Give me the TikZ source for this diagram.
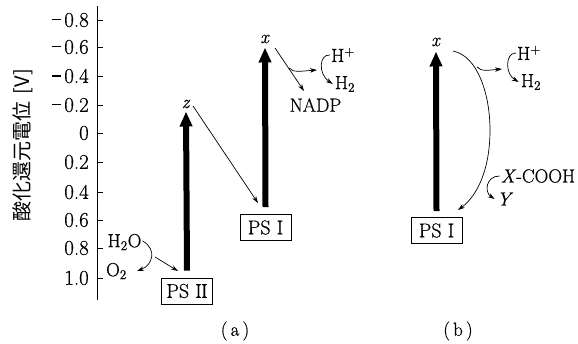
\documentclass[tikz,border=0pt]{standalone}
\usepackage{fontspec}
\setmainfont{Latin Modern Roman}[FakeBold=0.5]
\newfontfamily\cjk{Noto Sans CJK JP}
\usetikzlibrary{arrows.meta}
\tikzset{
  lbl/.style={inner sep=0pt, font=\fontsize{19}{21}\selectfont},
  ticklbl/.style={inner sep=0pt, anchor=east, font=\fontsize{21}{23}\selectfont},
  psbox/.style={draw, line width=0.8pt, inner sep=0pt, minimum width=51pt, minimum height=26pt, font=\fontsize{20}{22}\selectfont},
  thickarr/.style={line width=6pt, -{Triangle[length=15pt,width=12pt]}},
  thinarr/.style={line width=0.7pt, -{Stealth[length=7pt,width=4.5pt]}},
  thinline/.style={line width=0.7pt},
  axisline/.style={line width=0.9pt}
}
\begin{document}
\begin{tikzpicture}[x=1pt,y=-1pt]
\useasboundingbox (0,0) rectangle (578,343);
% axis
\draw[axisline] (97,6) -- (97,300);
\foreach \y/\t in {20/{\rule[0.3em]{0.42em}{0.07em}\,0.8},47/{\rule[0.3em]{0.42em}{0.07em}\,0.6},76/{\rule[0.3em]{0.42em}{0.07em}\,0.4},105/{\rule[0.3em]{0.42em}{0.07em}\,0.2},133/0,162/0.2,192/0.4,220/0.6,248/0.8,278/1.0}{
  \draw[axisline] (97,\y) -- (103,\y);
  \node[ticklbl] at (89,\y) {\t};
}
\node[rotate=90, inner sep=0pt, font=\cjk\fontsize{20}{22}\selectfont] (ylab) at (23,145) {酸化還元電位\hspace{7pt}[V]};

% (a)
\node[psbox] (psii) at (187,291) {PS~I\kern-0.7ptI};
\node[psbox] (psia) at (265.5,227.5) {PS~I};
\node[lbl] (za) at (186,104) {\textit{z}};
\node[lbl] (xa) at (265,39) {\textit{x}};
\draw[thickarr] ([yshift=7pt]psii.north) -- ([yshift=-3pt]za.south);
\draw[thickarr] ([yshift=7pt]psia.north) -- ([yshift=-4pt]xa.south);
\node[lbl] (h2o) at (124.5,242) {H\textsubscript{2}O};
\node[lbl] (o2) at (116.5,271) {O\textsubscript{2}};
\coordinate (h2oa) at (155,257);
\coordinate (h2ob) at (178,271);
\draw[thinarr] ([xshift=1pt,yshift=1pt]h2o.east) .. controls (157,249) and (153,265) .. ([xshift=10pt]o2.east);
\draw[thinarr] (h2oa) -- (h2ob);
\coordinate (za1) at (193,106);
\coordinate (za2) at (258,203);
\draw[thinarr] (za1) -- (za2);
\node[lbl] (nadp) at (315.5,105) {NADP};
\node[lbl] (hpa) at (343,55) {H\textsuperscript{+}};
\node[lbl] (h2a) at (345,84) {H\textsubscript{2}};
\coordinate (xa1) at (275,48);
\coordinate (xa2) at (304,91);
\coordinate (xa3) at (289,68);
\coordinate (xa4) at (317,70);
\draw[thinarr] (xa1) -- (xa2);
\draw[thinarr] (xa3) .. controls (293,73) and (302,71) .. (xa4);
\draw[thinarr] ([xshift=-1pt]hpa.west) .. controls (319,54) and (318,74) .. ([xshift=-2pt]h2a.west);
\node[lbl] (capa) at (235,331) {(\,a\,)};

% (b)
\node[psbox] (psib) at (436.5,230.5) {PS~I};
\node[lbl] (xb) at (436,42) {\textit{x}};
\draw[thickarr] ([yshift=6pt]psib.north) -- ([yshift=-5pt]xb.south);
\node[lbl] (hpb) at (529,53) {H\textsuperscript{+}};
\node[lbl] (h2b) at (531,82) {H\textsubscript{2}};
\node[lbl] (xcooh) at (538,176) {\textit{X}-COOH};
\node[lbl] (yb) at (505,199) {\textit{Y}};
\coordinate (xb1) at (453,51);
\coordinate (xbm) at (490,130);
\coordinate (xb2) at (458,210);
\coordinate (xb3) at (477,67);
\coordinate (xb4) at (502,69);
\draw[thinline] (xb1) .. controls (478,56) and (490,95) .. (xbm);
\draw[thinarr] (xbm) .. controls (490,170) and (477,196) .. (xb2);
\draw[thinarr] (xb3) .. controls (481,72) and (490,70) .. (xb4);
\draw[thinarr] ([xshift=-1pt]hpb.west) .. controls (505,53) and (505,74) .. ([xshift=-2pt]h2b.west);
\draw[thinarr] ([xshift=-1pt]xcooh.west) .. controls (486,176) and (484,192) .. ([xshift=-2pt]yb.west);
\node[lbl] (capb) at (458,331) {(\,b\,)};
\end{tikzpicture}
\end{document}
